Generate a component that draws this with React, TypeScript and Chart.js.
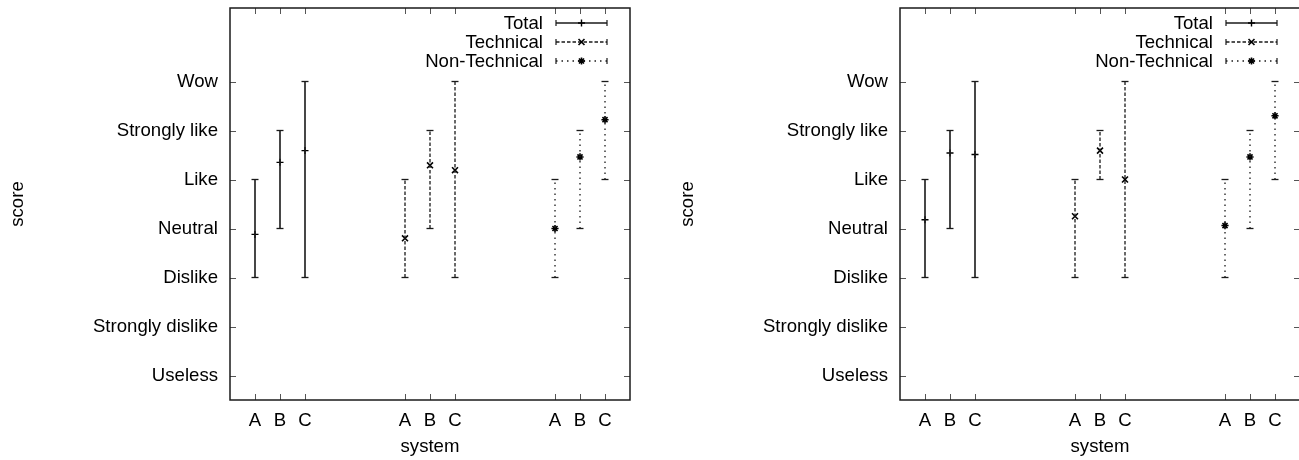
import React, { useEffect, useRef } from 'react';
import { Chart, registerables } from 'chart.js';

Chart.register(...registerables);

// ---------- data ----------
const SCORE_LABELS = ['Useless', 'Strongly dislike', 'Dislike', 'Neutral', 'Like', 'Strongly like', 'Wow'];
const SYSTEMS = ['A', 'B', 'C'];
const SERIES_NAMES = ['Total', 'Technical', 'Non-Technical'];

// Left panel (score index: Useless = 0 ... Wow = 6)
const leftTotalMean = [2.88, 4.35, 4.59];
const leftTotalLow = [2, 3, 2];
const leftTotalHigh = [4, 5, 6];
const leftTechMean = [2.8, 4.29, 4.19];
const leftTechLow = [2, 3, 2];
const leftTechHigh = [4, 5, 6];
const leftNonTechMean = [3.0, 4.46, 5.22];
const leftNonTechLow = [2, 3, 4];
const leftNonTechHigh = [4, 5, 6];

// Right panel
const rightTotalMean = [3.18, 4.54, 4.51];
const rightTotalLow = [2, 3, 2];
const rightTotalHigh = [4, 5, 6];
const rightTechMean = [3.25, 4.59, 4.0];
const rightTechLow = [2, 4, 2];
const rightTechHigh = [4, 5, 6];
const rightNonTechMean = [3.06, 4.46, 5.3];
const rightNonTechLow = [2, 3, 4];
const rightNonTechHigh = [4, 5, 6];

// ---------- styling ----------
const FONT_FAMILY = "'Liberation Sans', Arial, Helvetica, sans-serif";
const FONT_SIZE = 18.6;
const INK = '#1a1a1a';

type Style = { dash: number[]; width: number; point: string; pr: number; pw: number };
const STYLES: Style[] = [
  { dash: [], width: 1.6, point: 'cross', pr: 3.5, pw: 1.4 },
  { dash: [3.5, 2], width: 1.3, point: 'crossRot', pr: 4.2, pw: 1.6 },
  { dash: [1.5, 4], width: 1.3, point: 'star', pr: 3.6, pw: 1.6 },
];

const GROUP_GAP = 6;
const xPos = (g: number, i: number) => g * GROUP_GAP + i + 1;

type Series = { mean: number[]; low: number[]; high: number[] };

function drawMarker(ctx: CanvasRenderingContext2D, kind: string, x: number, y: number, r: number) {
  ctx.beginPath();
  if (kind === 'cross' || kind === 'star') {
    ctx.moveTo(x - r, y); ctx.lineTo(x + r, y);
    ctx.moveTo(x, y - r); ctx.lineTo(x, y + r);
  }
  if (kind === 'crossRot' || kind === 'star') {
    const d = r * Math.SQRT1_2;
    ctx.moveTo(x - d, y - d); ctx.lineTo(x + d, y + d);
    ctx.moveTo(x - d, y + d); ctx.lineTo(x + d, y - d);
  }
  ctx.stroke();
}

const framePlugin = {
  id: 'gnuplotFrame',
  afterDraw(chart: any) {
    const { ctx, chartArea } = chart;
    const { left, right, top, bottom } = chartArea;
    const xs = chart.scales.x;
    const ys = chart.scales.y;
    ctx.save();
    // inward, mirrored tick marks
    ctx.strokeStyle = '#555';
    ctx.lineWidth = 1;
    ctx.setLineDash([]);
    const TL = 6;
    ys.ticks.forEach((t: any) => {
      const py = Math.round(ys.getPixelForValue(t.value)) + 0.5;
      ctx.beginPath();
      ctx.moveTo(left, py); ctx.lineTo(left + TL, py);
      ctx.moveTo(right, py); ctx.lineTo(right - TL, py);
      ctx.stroke();
    });
    xs.ticks.forEach((t: any) => {
      const px = Math.round(xs.getPixelForValue(t.value)) + 0.5;
      ctx.beginPath();
      ctx.moveTo(px, bottom); ctx.lineTo(px, bottom - TL);
      ctx.moveTo(px, top); ctx.lineTo(px, top + TL);
      ctx.stroke();
    });
    // frame
    ctx.strokeStyle = INK;
    ctx.lineWidth = 1.5;
    ctx.strokeRect(left, top, right - left, bottom - top);

    // legend (inside, top right)
    ctx.font = `${FONT_SIZE}px ${FONT_FAMILY}`;
    ctx.textAlign = 'right';
    ctx.textBaseline = 'middle';
    SERIES_NAMES.forEach((name, i) => {
      const st = STYLES[i];
      const y = top + 15 + 19 * i;
      ctx.fillStyle = '#000';
      ctx.fillText(name, right - 87, y + 1);
      const x0 = right - 74;
      const x1 = right - 23;
      ctx.strokeStyle = INK;
      ctx.lineWidth = st.width;
      ctx.setLineDash(st.dash);
      ctx.beginPath();
      ctx.moveTo(x0, y); ctx.lineTo(x1, y);
      ctx.stroke();
      ctx.setLineDash([]);
      ctx.lineWidth = 1.2;
      ctx.beginPath();
      ctx.moveTo(x0, y - 3); ctx.lineTo(x0, y + 3);
      ctx.moveTo(x1, y - 3); ctx.lineTo(x1, y + 3);
      ctx.stroke();
      ctx.lineWidth = st.pw;
      ctx.strokeStyle = '#000';
      drawMarker(ctx, st.point, (x0 + x1) / 2, y, st.pr);
    });
    ctx.restore();
  },
};

function buildDatasets(series: Series[]) {
  const ds: any[] = [];
  series.forEach((s, g) => {
    const st = STYLES[g];
    const pts: any[] = [];
    s.mean.forEach((_, i) => {
      pts.push({ x: xPos(g, i), y: s.low[i] });
      pts.push({ x: xPos(g, i), y: s.high[i] });
      pts.push({ x: xPos(g, i), y: null });
    });
    ds.push({
      type: 'scatter',
      label: SERIES_NAMES[g] + ' range',
      data: pts,
      showLine: true,
      spanGaps: false,
      borderColor: INK,
      borderWidth: st.width,
      borderDash: st.dash,
      pointStyle: 'line',
      pointRadius: 3.5,
      pointBorderWidth: 1.3,
      pointBorderColor: INK,
      pointBackgroundColor: INK,
    });
    ds.push({
      type: 'scatter',
      label: SERIES_NAMES[g],
      data: s.mean.map((m, i) => ({ x: xPos(g, i), y: m })),
      showLine: false,
      pointStyle: st.point,
      pointRadius: st.pr,
      pointBorderWidth: st.pw,
      pointBorderColor: '#000',
      pointBackgroundColor: '#000',
    });
  });
  return ds;
}

function Panel({ series }: { series: Series[] }) {
  const ref = useRef<HTMLCanvasElement | null>(null);
  useEffect(() => {
    if (!ref.current) return;
    const font = { family: FONT_FAMILY, size: FONT_SIZE };
    const chart = new Chart(ref.current, {
      type: 'scatter',
      data: { datasets: buildDatasets(series) },
      options: {
        animation: false,
        responsive: false,
        events: [],
        layout: { autoPadding: false, padding: { top: 8, right: 20, left: 0, bottom: 0 } },
        plugins: { legend: { display: false }, tooltip: { enabled: false } },
        scales: {
          x: {
            type: 'linear',
            min: 0,
            max: 16,
            grid: { display: false, drawTicks: false },
            border: { display: false },
            afterBuildTicks: (scale: any) => {
              const t: any[] = [];
              SERIES_NAMES.forEach((_, g) => SYSTEMS.forEach((_, i) => t.push({ value: xPos(g, i) })));
              scale.ticks = t;
            },
            ticks: {
              color: '#000',
              font,
              padding: 10,
              maxRotation: 0,
              autoSkip: false,
              callback: (v: any) => SYSTEMS[(Number(v) - 1) % GROUP_GAP] ?? '',
            },
            title: { display: true, text: 'system', color: '#000', font, padding: { top: 4, bottom: 2 } },
            afterFit: (s: any) => {
              s.height = 60;
              s.paddingLeft = 0; s.paddingRight = 0; s.paddingTop = 0; s.paddingBottom = 0;
            },
          },
          y: {
            type: 'linear',
            min: -0.5,
            max: 7.5,
            grid: { display: false, drawTicks: false },
            border: { display: false },
            afterBuildTicks: (scale: any) => {
              scale.ticks = SCORE_LABELS.map((_, i) => ({ value: i }));
            },
            ticks: {
              color: '#000',
              font,
              padding: 12,
              autoSkip: false,
              callback: (v: any) => SCORE_LABELS[Number(v)] ?? '',
            },
            title: { display: true, text: 'score', color: '#000', font, padding: { top: 7, bottom: 4 } },
            afterFit: (s: any) => {
              s.width = 230;
              s.paddingLeft = 0; s.paddingRight = 0; s.paddingTop = 0; s.paddingBottom = 0;
            },
          },
        },
      } as any,
      plugins: [framePlugin],
    });
    return () => chart.destroy();
  }, [series]);
  return <canvas ref={ref} width={650} height={460} style={{ display: 'block' }} />;
}

const LEFT: Series[] = [
  { mean: leftTotalMean, low: leftTotalLow, high: leftTotalHigh },
  { mean: leftTechMean, low: leftTechLow, high: leftTechHigh },
  { mean: leftNonTechMean, low: leftNonTechLow, high: leftNonTechHigh },
];
const RIGHT: Series[] = [
  { mean: rightTotalMean, low: rightTotalLow, high: rightTotalHigh },
  { mean: rightTechMean, low: rightTechLow, high: rightTechHigh },
  { mean: rightNonTechMean, low: rightNonTechLow, high: rightNonTechHigh },
];

export default function App() {
  return (
    <div style={{ position: 'fixed', left: 0, top: 0, width: 1299, height: 460, overflow: 'hidden', background: '#fff' }}>
      <div style={{ position: 'absolute', left: 0, top: 0 }}>
        <Panel series={LEFT} />
      </div>
      <div style={{ position: 'absolute', left: 670, top: 0 }}>
        <Panel series={RIGHT} />
      </div>
    </div>
  );
}
